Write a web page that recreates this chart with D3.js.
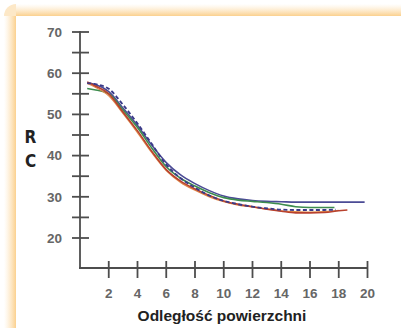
<!DOCTYPE html>
<html>
<head>
<meta charset="utf-8">
<script src="https://cdn.jsdelivr.net/npm/d3@7"></script>
<style>
  body { margin: 0; background: #fff; }
  svg { display: block; }
</style>
</head>
<body>
<div id="chart"></div>
<script>
// data
const xs = [0.5, 1, 2, 3, 4, 5, 6, 7, 8, 9, 10, 11, 12, 13, 14, 15, 16, 17, 18, 19, 19.8]
const blueSolid = [57.6, 57.3, 55.5, 51.5, 47.3, 42.5, 38.3, 35.3, 33.2, 31.5, 30.2, 29.5, 29.1, 28.9, 28.8, 28.7, 28.7, 28.7, 28.7, 28.7, 28.7]
const xsDash = [0.5, 1, 2, 3, 4, 5, 6, 7, 8, 9, 10, 11, 12, 13, 14, 15, 16, 17, 17.8]
const blueDash = [57.6, 57.4, 56.2, 52.3, 47.8, 42.8, 37.8, 34.5, 32.2, 30.3, 29.0, 28.2, 27.6, 27.2, 26.9, 26.8, 26.8, 26.8, 26.9]
const xsGreen = [0.5, 1, 2, 3, 4, 5, 6, 7, 8, 9, 10, 11, 12, 13, 14, 15, 16, 17, 17.7]
const green = [56.3, 56.0, 55.0, 51.0, 46.8, 41.8, 37.3, 34.5, 32.6, 31.0, 29.8, 29.2, 28.9, 28.6, 28.2, 27.6, 27.4, 27.4, 27.4]
const xsRed = [0.5, 1, 2, 3, 4, 5, 6, 7, 8, 9, 10, 11, 12, 13, 14, 15, 16, 17, 18, 18.6]
const red = [57.9, 57.0, 55.0, 50.5, 46.0, 41.0, 36.6, 33.8, 31.9, 30.3, 29.0, 28.2, 27.6, 27.0, 26.5, 26.1, 26.1, 26.2, 26.6, 26.8]
const xsOrange = [0.5, 1, 2, 3, 4, 5, 6, 7, 8, 9, 10, 11, 12, 13, 14, 15, 16, 17, 18]
const orange = [57.5, 56.7, 54.5, 50.2, 45.6, 40.7, 36.4, 33.5, 31.6, 30.0, 28.8, 28.0, 27.5, 27.0, 26.6, 26.4, 26.3, 26.4, 26.7]
const xTicks = [2, 4, 6, 8, 10, 12, 14, 16, 18, 20]
const yTicks = [20, 30, 40, 50, 60, 70]
const yMinor = [25, 35, 45, 55, 65]

const W = 401, H = 328
const svg = d3.select("#chart").append("svg").attr("width", W).attr("height", H)

// orange frame
const defs = svg.append("defs")
const gT = defs.append("linearGradient").attr("id", "gT").attr("x1", 0).attr("y1", 0).attr("x2", 0).attr("y2", 1)
gT.append("stop").attr("offset", 0).attr("stop-color", "#fde3b8").attr("stop-opacity", 0)
gT.append("stop").attr("offset", 1).attr("stop-color", "#fbd08e")
const gL = defs.append("linearGradient").attr("id", "gL").attr("x1", 0).attr("y1", 0).attr("x2", 1).attr("y2", 0)
gL.append("stop").attr("offset", 0).attr("stop-color", "#fde3b8").attr("stop-opacity", 0)
gL.append("stop").attr("offset", 1).attr("stop-color", "#fbd08e")
svg.append("rect").attr("x", 16).attr("y", 4).attr("width", W - 16).attr("height", 12).attr("fill", "url(#gT)")
svg.append("rect").attr("x", 4).attr("y", 16).attr("width", 12).attr("height", H - 16).attr("fill", "url(#gL)")
svg.append("path").attr("d", "M4,16 A12,12 0 0 1 16,4 L16,16 Z").attr("fill", "#fcd9a2").attr("opacity", 0.6)
svg.append("rect").attr("x", 16).attr("y", 16).attr("width", W - 16).attr("height", H - 16).attr("fill", "#fff")

const x = d3.scaleLinear().domain([0, 20]).range([80, 367.5])
const y = d3.scaleLinear().domain([20, 70]).range([238, 32])
const axisCol = "#4d4d4d"
const font = "Liberation Sans, Arial, sans-serif"

// axes
svg.append("line").attr("x1", 80).attr("x2", 80).attr("y1", y(70) - 1).attr("y2", 268)
  .attr("stroke", axisCol).attr("stroke-width", 1.8)
svg.append("line").attr("x1", 79).attr("x2", x(20)).attr("y1", 268).attr("y2", 268)
  .attr("stroke", axisCol).attr("stroke-width", 1.8)
svg.selectAll(".yt").data(yTicks.concat(yMinor)).enter().append("line")
  .attr("x1", 72).attr("x2", 89).attr("y1", d => y(d)).attr("y2", d => y(d))
  .attr("stroke", axisCol).attr("stroke-width", 1.8)
svg.selectAll(".yl").data(yTicks).enter().append("text")
  .attr("x", 62).attr("y", d => y(d) + 4.8).attr("text-anchor", "end")
  .attr("font-family", font).attr("font-weight", "bold")
  .attr("font-size", 13.5).attr("fill", "#666").text(d => d)
svg.selectAll(".xt").data(xTicks).enter().append("line")
  .attr("x1", d => x(d)).attr("x2", d => x(d)).attr("y1", 261).attr("y2", 278)
  .attr("stroke", axisCol).attr("stroke-width", 1.8)
svg.selectAll(".xl").data(xTicks).enter().append("text")
  .attr("x", d => x(d)).attr("y", 297.5).attr("text-anchor", "middle")
  .attr("font-family", font).attr("font-weight", "bold")
  .attr("font-size", 13.5).attr("fill", "#666").text(d => d)

svg.append("text").attr("x", 222).attr("y", 321).attr("text-anchor", "middle")
  .attr("font-family", font).attr("font-weight", "bold")
  .attr("font-size", 15.5).attr("fill", "#222").text("Odległość powierzchni")
svg.append("text").attr("x", 30.5).attr("y", 143).attr("text-anchor", "middle")
  .attr("font-family", "Liberation Sans Narrow, DejaVu Sans Condensed, sans-serif").attr("font-weight", "bold")
  .attr("font-size", 17).attr("fill", "#222").text("R")
svg.append("text").attr("x", 30.5).attr("y", 166.5).attr("text-anchor", "middle")
  .attr("font-family", "Liberation Sans Narrow, DejaVu Sans Condensed, sans-serif").attr("font-weight", "bold")
  .attr("font-size", 17).attr("fill", "#222").text("C")

// curves
const line = d3.line().x(d => x(d[0])).y(d => y(d[1])).curve(d3.curveMonotoneX)
const zip = (a, b) => a.map((v, i) => [v, b[i]])
const series = [
  { xs: xs, ys: blueSolid, color: "#4b4b95", w: 1.6 },
  { xs: xsGreen, ys: green, color: "#3d8c4e", w: 1.6 },
  { xs: xsOrange, ys: orange, color: "#e08848", w: 1.3 },
  { xs: xsRed, ys: red, color: "#b8412e", w: 1.6 },
  { xs: xsDash, ys: blueDash, color: "#3a3a88", w: 1.8, dash: "4,2.5" }
]
series.forEach(s => {
  svg.append("path").datum(zip(s.xs, s.ys)).attr("d", line)
    .attr("fill", "none").attr("stroke", s.color).attr("stroke-width", s.w)
    .attr("stroke-dasharray", s.dash || null)
})
</script>
</body>
</html>
